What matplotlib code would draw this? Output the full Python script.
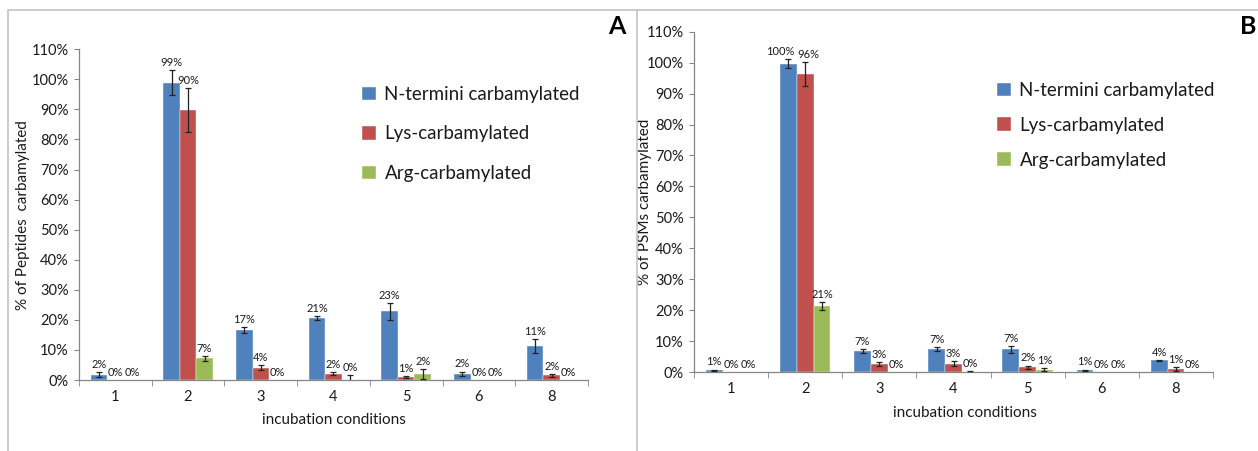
import numpy as np
import matplotlib
matplotlib.use("Agg")
import matplotlib.pyplot as plt
from matplotlib.lines import Line2D
from matplotlib.ticker import FixedLocator, PercentFormatter

plt.rcParams['font.family'] = ['Lato', 'DejaVu Sans']

conditions = ['1', '2', '3', '4', '5', '6', '8']
series = ['N-termini carbamylated', 'Lys-carbamylated', 'Arg-carbamylated']
colors = ['#4F81BD', '#C0504D', '#9BBB59']

# panel A: % of peptides
pep_nterm = [1.8, 98.9, 16.7, 20.6, 22.8, 2.0, 11.3]
pep_lys = [0.0, 89.8, 4.1, 2.0, 1.0, 0.0, 1.6]
pep_arg = [0.0, 7.2, 0.0, 0.0, 2.0, 0.0, 0.0]
pep_nterm_err = [0.8, 4.2, 1.0, 0.6, 2.8, 0.8, 2.2]
pep_lys_err = [0.0, 7.2, 0.9, 0.5, 0.3, 0.0, 0.5]
pep_arg_err = [0.0, 0.8, 0.0, 1.7, 1.6, 0.0, 0.0]

# panel B: % of PSMs
psm_nterm = [0.6, 99.7, 6.7, 7.4, 7.3, 0.6, 3.8]
psm_lys = [0.0, 96.3, 2.6, 2.7, 1.6, 0.0, 1.0]
psm_arg = [0.0, 21.4, 0.0, 0.0, 0.8, 0.0, 0.0]
psm_nterm_err = [0.2, 1.5, 0.6, 0.6, 1.0, 0.2, 0.2]
psm_lys_err = [0.0, 3.8, 0.7, 0.7, 0.5, 0.0, 0.7]
psm_arg_err = [0.0, 1.3, 0.0, 0.4, 0.4, 0.0, 0.0]

W, H = 1258, 451
fig = plt.figure(figsize=(W / 100, H / 100), dpi=100)
axis_grey = '#868686'
frame_grey = '#c8c8c8'
text_col = '#1a1a1a'


def px_axes(left, right, top, bottom):
    return fig.add_axes([left / W, 1 - bottom / H, (right - left) / W, (bottom - top) / H])


def draw_panel(ax, vals, errs, ylabel, xlab_x, legend_anchor, legend_spacing, nudges=None):
    # nudges: {(series, condition): dx in points} to keep crowded labels apart
    nudges = nudges or {}
    x = np.arange(len(conditions))
    width = 0.227
    for i, (v, e) in enumerate(zip(vals, errs)):
        pos = x + (i - 1) * width
        ax.bar(pos, v, width, color=colors[i], edgecolor='white', linewidth=0.3,
               label=series[i], zorder=2)
        e = np.array(e)
        show = e > 0
        ax.errorbar(pos[show], np.array(v)[show], yerr=e[show], fmt='none',
                    ecolor='#222222', elinewidth=0.9, capsize=2.2, capthick=0.9, zorder=3)
        for j, (px, val, err) in enumerate(zip(pos, v, e)):
            ax.annotate(f'{val:.0f}%', (px, val + err), xytext=(nudges.get((i, j), 0), 1.5),
                        textcoords='offset points', ha='center', va='bottom',
                        fontsize=8, color=text_col)
    ax.set_xlim(-0.5, len(conditions) - 0.5)
    ax.set_ylim(0, 110)
    ax.set_yticks(np.arange(0, 111, 10))
    ax.yaxis.set_major_formatter(PercentFormatter(decimals=0))
    ax.set_xticks(x)
    ax.set_xticklabels(conditions)
    ax.xaxis.set_minor_locator(FixedLocator(np.arange(-0.5, len(conditions), 1)))
    ax.tick_params(axis='x', which='major', length=0, pad=7, labelsize=10.5, colors=text_col)
    ax.tick_params(axis='x', which='minor', length=4, color=axis_grey, direction='out')
    ax.tick_params(axis='y', length=3.5, color=axis_grey, pad=4, labelsize=10.5,
                   labelcolor=text_col)
    for s in ['top', 'right']:
        ax.spines[s].set_visible(False)
    for s in ['left', 'bottom']:
        ax.spines[s].set_color(axis_grey)
        ax.spines[s].set_linewidth(0.9)
    ax.set_ylabel(ylabel, fontsize=11, color=text_col)
    ax.set_xlabel('incubation conditions', fontsize=11, color=text_col)
    ax.xaxis.set_label_coords(xlab_x, -0.1)
    leg = ax.legend(loc='upper left', bbox_to_anchor=legend_anchor,
                    bbox_transform=fig.transFigure, frameon=False, fontsize=13.5,
                    handlelength=0.75, handleheight=0.75, handletextpad=0.45,
                    labelspacing=legend_spacing, borderaxespad=0, borderpad=0)
    for t in leg.get_texts():
        t.set_color(text_col)


axA = px_axes(79, 588, 49.3, 380)
draw_panel(axA, [pep_nterm, pep_lys, pep_arg],
           [pep_nterm_err, pep_lys_err, pep_arg_err],
           '% of Peptides  carbamylated', 0.5, (362 / W, 1 - 86 / H), 1.2)
axA.yaxis.set_label_coords(-0.096, 0.5)

axB = px_axes(694, 1213, 31.7, 372)
draw_panel(axB, [psm_nterm, psm_lys, psm_arg],
           [psm_nterm_err, psm_lys_err, psm_arg_err],
           '% of PSMs carbamylated', 0.522, (997 / W, 1 - 82 / H), 0.95,
           nudges={(0, 1): -5.5, (1, 1): 2})
axB.yaxis.set_label_coords(-0.08, 0.5)

# panel frames
for xs, ys in [([8, 8, 637, 637], [H, 10, 10, H]), ([637, W], [10, 10])]:
    fig.add_artist(Line2D([v / W for v in xs], [1 - v / H for v in ys],
                          color=frame_grey, linewidth=1.3))

fig.text(617 / W, 1 - 27 / H, 'A', fontsize=18, fontweight='bold', ha='center', va='center')
fig.text(1248 / W, 1 - 27 / H, 'B', fontsize=18, fontweight='bold', ha='center', va='center')

fig.savefig('out.png', dpi=100)
